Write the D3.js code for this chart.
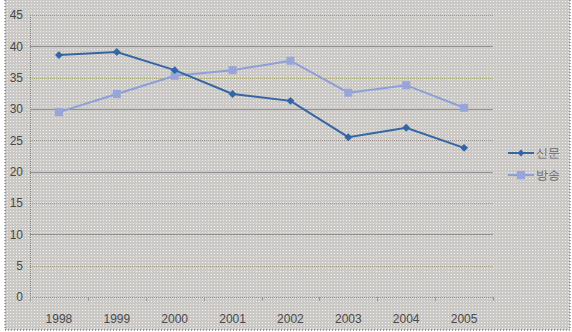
<!DOCTYPE html>
<html>
<head>
<meta charset="utf-8">
<script src="https://cdn.jsdelivr.net/npm/d3@7"></script>
<style>
  body { margin: 0; background: #fff; }
  svg text { font-family: "Liberation Sans", "DejaVu Sans", sans-serif; }
</style>
</head>
<body>
<div id="chart"></div>
<script>
var years = ["1998", "1999", "2000", "2001", "2002", "2003", "2004", "2005"];
var sinmun = [38.6, 39.1, 36.2, 32.4, 31.3, 25.5, 27.0, 23.8];
var bangsong = [29.5, 32.4, 35.3, 36.2, 37.7, 32.6, 33.8, 30.2];
var yTicks = [0, 5, 10, 15, 20, 25, 30, 35, 40, 45];
var seriesNames = ["신문", "방송"];

var width = 572, height = 332;
var margin = { left: 30, right: 79, top: 15, bottom: 35 };

var svg = d3.select("#chart").append("svg")
  .attr("width", width)
  .attr("height", height);

// dotted texture background
var defs = svg.append("defs");
var pat = defs.append("pattern")
  .attr("id", "dots")
  .attr("width", 3).attr("height", 3)
  .attr("patternUnits", "userSpaceOnUse");
pat.append("rect").attr("width", 3).attr("height", 3).attr("fill", "#cbc8c8");
pat.append("rect").attr("x", 1).attr("y", 1).attr("width", 1).attr("height", 1).attr("fill", "#f4f0e2");

svg.append("rect")
  .attr("x", 5).attr("y", 0)
  .attr("width", 565).attr("height", 330)
  .attr("fill", "url(#dots)");

// frame
svg.append("line").attr("x1", 5).attr("x2", 5).attr("y1", 0).attr("y2", 330)
  .attr("stroke", "#555").attr("stroke-dasharray", "1,2");
svg.append("line").attr("x1", 5).attr("x2", 570).attr("y1", 330).attr("y2", 330)
  .attr("stroke", "#555").attr("stroke-dasharray", "1,2");
svg.append("line").attr("x1", 570).attr("x2", 570).attr("y1", 0).attr("y2", 330)
  .attr("stroke", "#555").attr("stroke-dasharray", "1,2");

var x = d3.scaleBand().domain(years).range([margin.left, width - margin.right]);
var y = d3.scaleLinear().domain([0, 45]).range([height - margin.bottom, margin.top]);

// gridlines
var gridColors = { 0: "#c08080", 5: "#a8a088", 10: "#909090", 15: "#a8a088", 20: "#909090",
  25: "#a09898", 30: "#909090", 35: "#a8a878", 40: "#909090", 45: "#a89888" };
svg.append("g").selectAll("line")
  .data(yTicks)
  .join("line")
  .attr("x1", margin.left)
  .attr("x2", width - margin.right)
  .attr("y1", d => Math.round(y(d)) + 0.5)
  .attr("y2", d => Math.round(y(d)) + 0.5)
  .attr("stroke", d => gridColors[d])
  .attr("stroke-dasharray", d => (d % 10 === 0 && d > 0) ? null : "1,1");

// y axis line
svg.append("line")
  .attr("x1", margin.left + 0.5).attr("x2", margin.left + 0.5)
  .attr("y1", y(45)).attr("y2", y(0))
  .attr("stroke", "#888").attr("stroke-dasharray", "1,1");

// y labels
svg.append("g").selectAll("text")
  .data(yTicks)
  .join("text")
  .attr("x", margin.left - 7)
  .attr("y", d => y(d))
  .attr("dy", "0.35em")
  .attr("text-anchor", "end")
  .attr("font-size", 12)
  .attr("fill", "#4a4a4a")
  .text(d => d);

// x ticks
var tickPos = years.map(d => x(d)).concat([width - margin.right]);
svg.append("g").selectAll("line")
  .data(tickPos)
  .join("line")
  .attr("x1", d => Math.round(d) + 0.5)
  .attr("x2", d => Math.round(d) + 0.5)
  .attr("y1", y(0))
  .attr("y2", y(0) + 4)
  .attr("stroke", "#999");

svg.append("g").selectAll("text")
  .data(years)
  .join("text")
  .attr("x", d => x(d) + x.bandwidth() / 2)
  .attr("y", y(0) + 26)
  .attr("text-anchor", "middle")
  .attr("font-size", 12)
  .attr("fill", "#4a4a4a")
  .text(d => d);

var line = d3.line()
  .x((d, i) => x(years[i]) + x.bandwidth() / 2)
  .y(d => y(d));

// 방송 (light, squares)
svg.append("path")
  .datum(bangsong)
  .attr("d", line)
  .attr("fill", "none")
  .attr("stroke", "#8d9fd8")
  .attr("stroke-width", 2);
svg.append("g").selectAll("rect")
  .data(bangsong)
  .join("rect")
  .attr("x", (d, i) => x(years[i]) + x.bandwidth() / 2 - 4)
  .attr("y", d => y(d) - 4)
  .attr("width", 8).attr("height", 8)
  .attr("fill", "#98a5da");

// 신문 (dark, diamonds)
svg.append("path")
  .datum(sinmun)
  .attr("d", line)
  .attr("fill", "none")
  .attr("stroke", "#3466a6")
  .attr("stroke-width", 2);
svg.append("g").selectAll("path.dia")
  .data(sinmun)
  .join("path")
  .attr("class", "dia")
  .attr("d", d3.symbol(d3.symbolDiamond2, 40))
  .attr("transform", (d, i) => "translate(" + (x(years[i]) + x.bandwidth() / 2) + "," + y(d) + ")")
  .attr("fill", "#3466a6");

// legend
var legend = svg.append("g");
var legendY = [153, 175];
legend.append("line").attr("x1", 508).attr("x2", 534).attr("y1", legendY[0]).attr("y2", legendY[0])
  .attr("stroke", "#3466a6").attr("stroke-width", 2);
legend.append("path").attr("d", d3.symbol(d3.symbolDiamond2, 30))
  .attr("transform", "translate(521," + legendY[0] + ")").attr("fill", "#3466a6");
legend.append("line").attr("x1", 508).attr("x2", 534).attr("y1", legendY[1]).attr("y2", legendY[1])
  .attr("stroke", "#8d9fd8").attr("stroke-width", 2);
legend.append("rect").attr("x", 517).attr("y", legendY[1] - 4).attr("width", 8).attr("height", 8)
  .attr("fill", "#98a5da");
legend.selectAll("text")
  .data(seriesNames)
  .join("text")
  .attr("x", 536)
  .attr("y", (d, i) => legendY[i])
  .attr("dy", "0.35em")
  .attr("font-size", 12)
  .attr("font-family", "'Noto Sans CJK KR', sans-serif")
  .attr("fill", "#6a6a6a")
  .text(d => d);
</script>
</body>
</html>
